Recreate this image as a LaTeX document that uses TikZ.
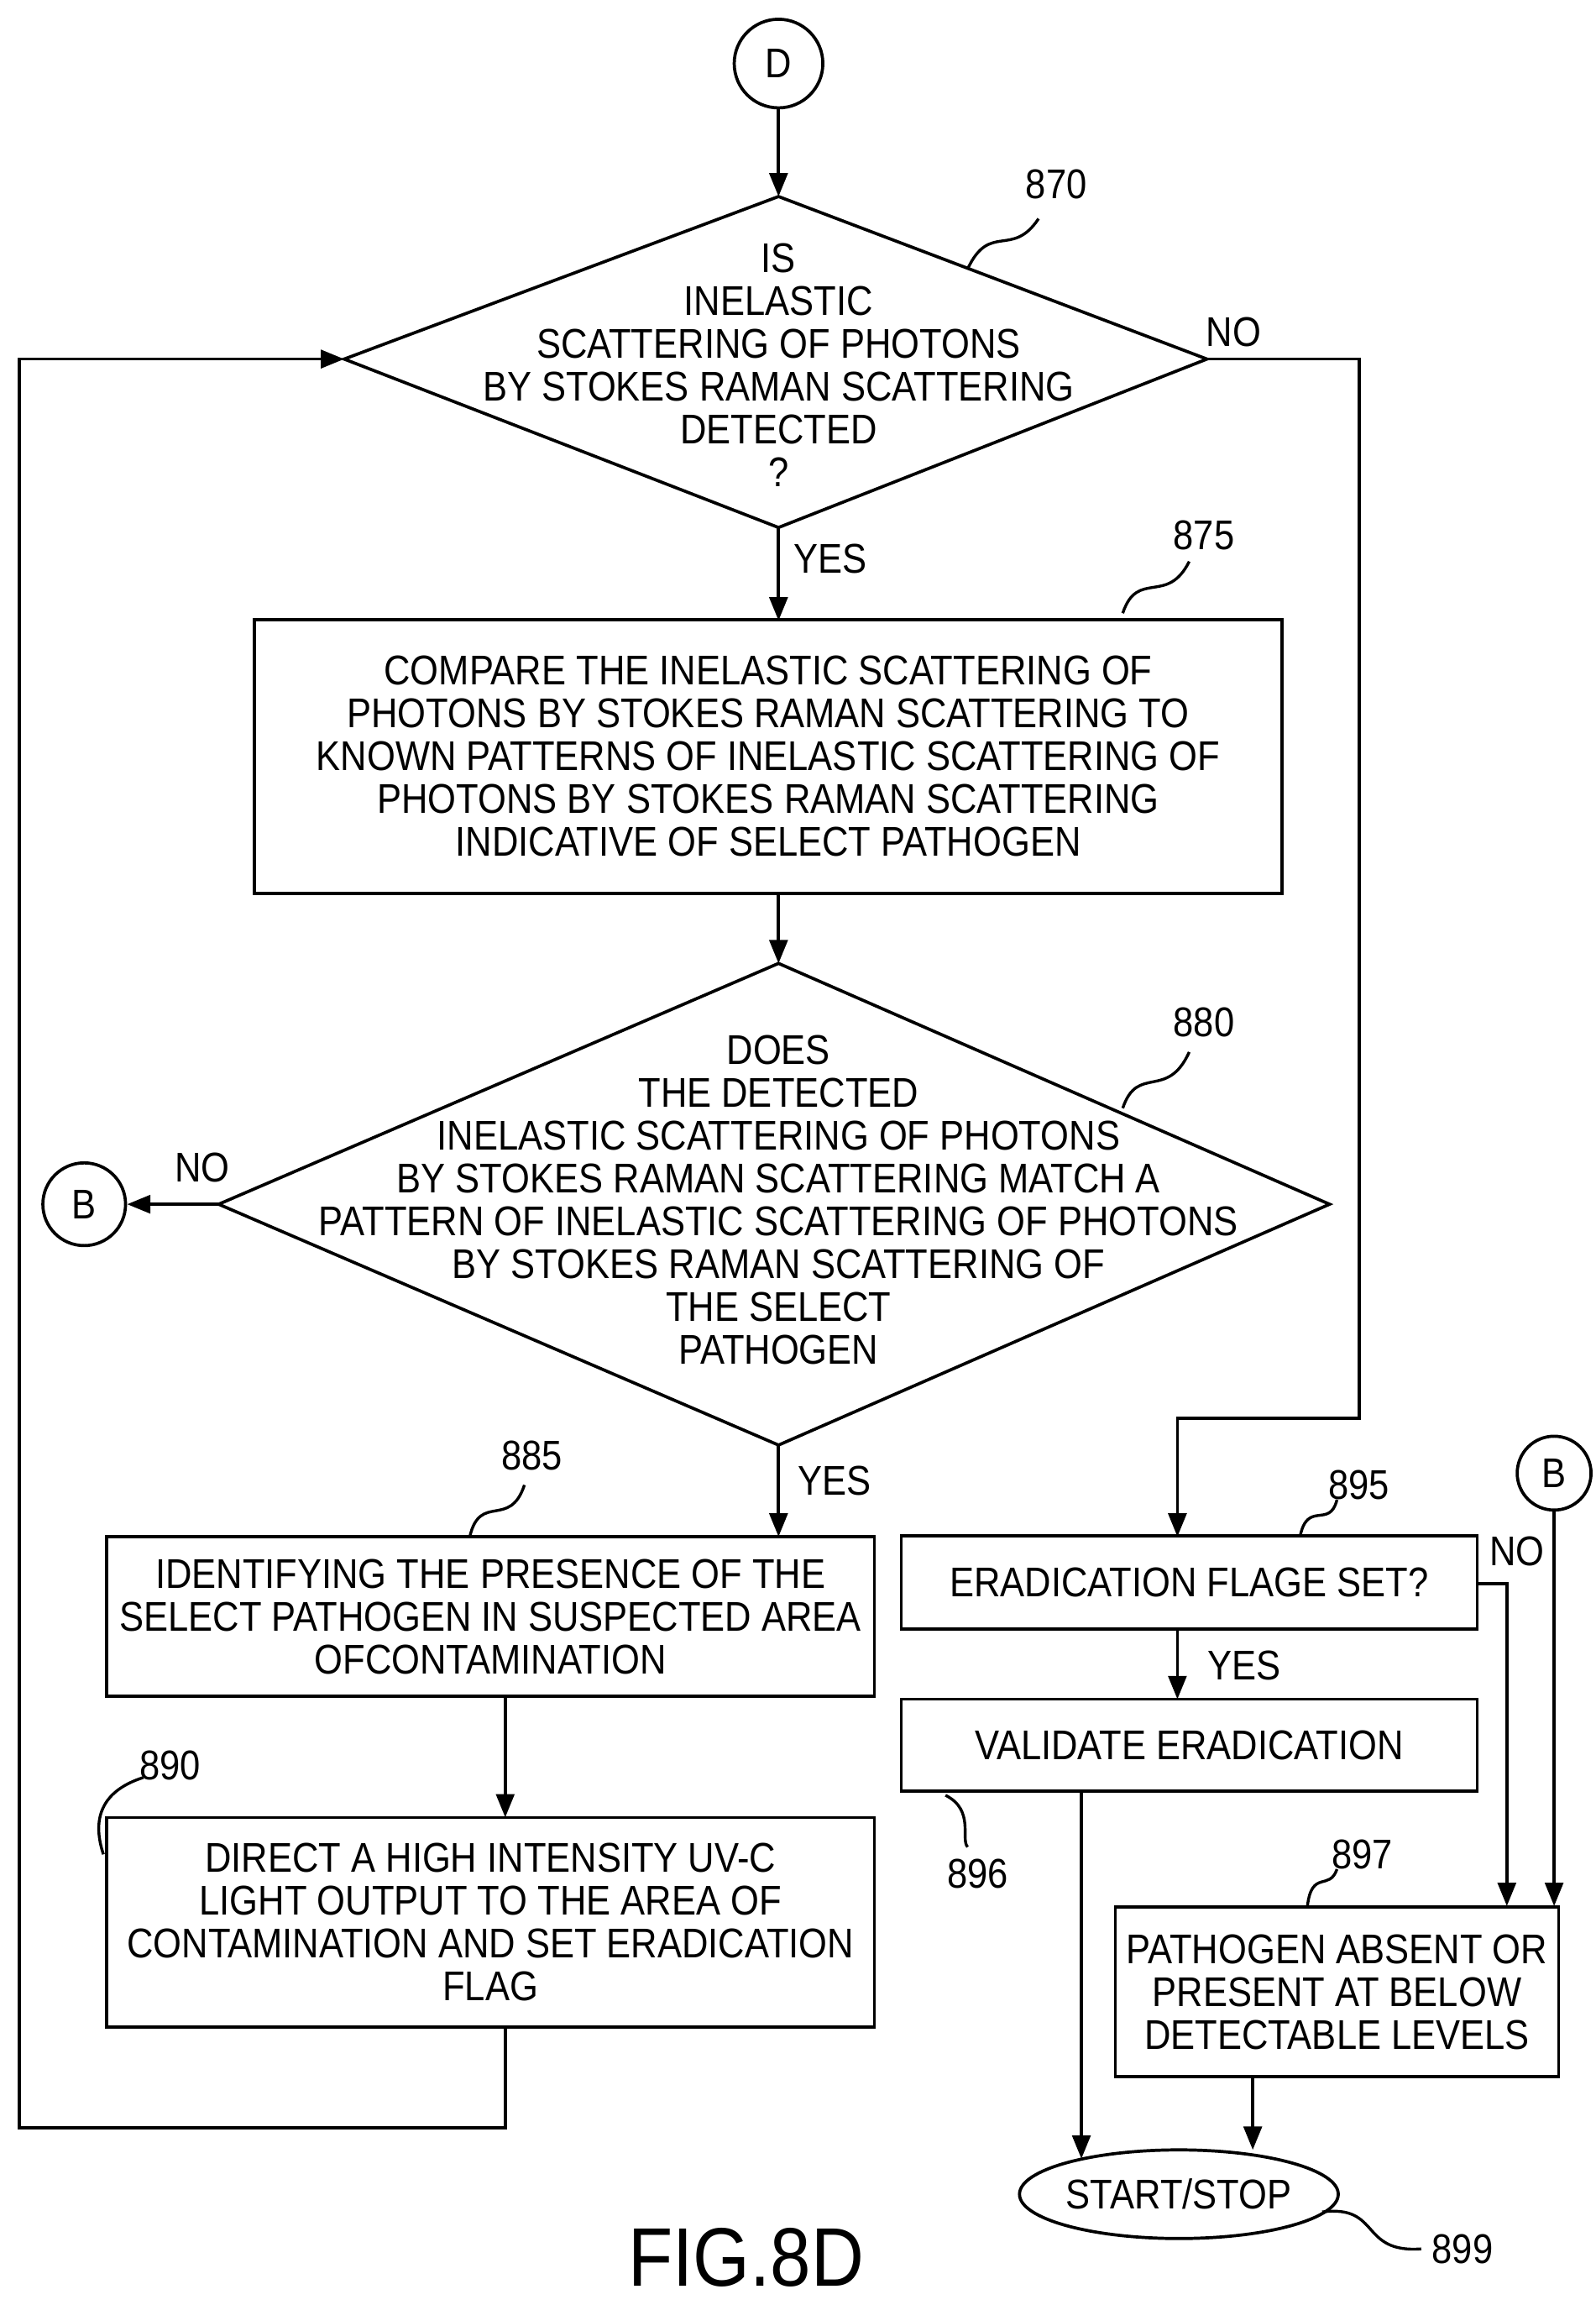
\documentclass[tikz,border=0pt]{standalone}
\usepackage{fontspec}
\setmainfont{Liberation Sans}[FakeStretch=0.88]
\usetikzlibrary{arrows.meta,shapes.geometric}
\begin{document}
\begin{tikzpicture}[x=0.02cm,y=-0.02cm,
  every node/.style={font=\fontsize{16}{16.5}\selectfont,inner sep=0pt},
  ln/.style={line width=1.2pt},
  ar/.style={ln,-{Triangle[length=9pt,width=7pt]}},
  box/.style={draw,line width=1.2pt,rectangle},
  circ/.style={draw,line width=1.2pt,circle},
  sq/.style={line width=1.1pt}]
\useasboundingbox (0,0) rectangle (1080,1560);
% D
\node[circ,minimum size=1.2cm] (D) at (527,43) {D};
% diamond 870
\coordinate (t1) at (527,133); \coordinate (b1) at (527,357);
\coordinate (l1) at (233,243); \coordinate (r1) at (817,243);
\draw[ln] (t1)--(r1)--(b1)--(l1)--cycle;
\node[align=center] (d1) at (527,247) {IS\\INELASTIC\\SCATTERING OF PHOTONS\\BY STOKES RAMAN SCATTERING\\DETECTED\\?};
\draw[ar] (D)--(t1);
% 875
\node[box,minimum width=13.92cm,minimum height=3.7cm,align=center] (b875) at (520,512) {COMPARE THE INELASTIC SCATTERING OF\\PHOTONS BY STOKES RAMAN SCATTERING TO\\KNOWN PATTERNS OF INELASTIC SCATTERING OF\\PHOTONS BY STOKES RAMAN SCATTERING\\INDICATIVE OF SELECT PATHOGEN};
\draw[ar] (b1)--(527,420);
\node at (562,378) {YES};
% diamond 880
\coordinate (t2) at (527,652); \coordinate (b2) at (527,978);
\coordinate (l2) at (148,815); \coordinate (r2) at (900,815);
\draw[ln] (t2)--(r2)--(b2)--(l2)--cycle;
\node[align=center] at (527,812) {DOES\\THE DETECTED\\INELASTIC SCATTERING OF PHOTONS\\BY STOKES RAMAN SCATTERING MATCH A\\PATTERN OF INELASTIC SCATTERING OF PHOTONS\\BY STOKES RAMAN SCATTERING OF\\THE SELECT\\PATHOGEN};
\draw[ar] (527,605)--(t2);
% B left
\node[circ,minimum size=1.12cm] (B1) at (57,815) {B};
\draw[ar] (l2)--(B1);
\node at (137,790) {NO};
% 885
\node[box,minimum width=10.4cm,minimum height=2.16cm,align=center] (b885) at (332,1094) {IDENTIFYING THE PRESENCE OF THE\\SELECT PATHOGEN IN SUSPECTED AREA\\OFCONTAMINATION};
\draw[ar] (b2)--(527,1040);
\node at (565,1002) {YES};
% 890
\node[box,minimum width=10.4cm,minimum height=2.84cm,align=center] (b890) at (332,1301) {DIRECT A HIGH INTENSITY UV-C\\LIGHT OUTPUT TO THE AREA OF\\CONTAMINATION AND SET ERADICATION\\FLAG};
\draw[ar] (342,1148)--(342,1230);
% loop
\draw[ar] (342,1372)--(342,1440)--(13,1440)--(13,243)--(l1);
% 895
\node[box,minimum width=7.8cm,minimum height=1.26cm] (b895) at (805,1071) {ERADICATION FLAGE SET?};
\draw[ar] (r1)--(920,243)--(920,960)--(797,960)--(797,1040);
\node at (835,225) {NO};
% 896
\node[box,minimum width=7.8cm,minimum height=1.24cm] (b896) at (805,1181) {VALIDATE ERADICATION};
\draw[ar] (797,1103)--(797,1150);
\node at (842,1127) {YES};
% 897
\node[box,minimum width=6cm,minimum height=2.3cm,align=center] (b897) at (905,1348) {PATHOGEN ABSENT OR\\PRESENT AT BELOW\\DETECTABLE LEVELS};
\draw[ar] (1000,1072)--(1020,1072)--(1020,1290);
\node at (1027,1050) {NO};
\node[circ,minimum size=1cm] (B2) at (1052,997) {B};
\draw[ar] (B2)--(1052,1290);
% start/stop
\node[draw,ellipse,line width=1.2pt,minimum width=4.1cm,minimum height=1.2cm] (ss) at (798,1485) {START/STOP};
\draw[ar] (732,1212)--(732,1461);
\draw[ar] (848,1405)--(848,1455);
% labels and squiggles
\node at (715,125) {870};
\draw[sq] (655,182) .. controls (670,150) and (685,175) .. (703,148);
\node at (815,362) {875};
\draw[sq] (760,415) .. controls (770,385) and (790,410) .. (805,380);
\node at (815,692) {880};
\draw[sq] (760,750) .. controls (770,720) and (790,745) .. (805,712);
\node at (360,985) {885};
\draw[sq] (318,1040) .. controls (325,1010) and (345,1035) .. (355,1005);
\node at (115,1195) {890};
\draw[sq] (70,1255) .. controls (60,1225) and (75,1210) .. (97,1203);
\node at (920,1005) {895};
\draw[sq] (880,1040) .. controls (885,1015) and (900,1035) .. (905,1015);
\node at (662,1268) {896};
\draw[sq] (640,1215) .. controls (660,1225) and (650,1245) .. (655,1250);
\node at (922,1255) {897};
\draw[sq] (885,1290) .. controls (888,1265) and (900,1280) .. (905,1265);
\node at (990,1522) {899};
\draw[sq] (895,1497) .. controls (935,1492) and (920,1525) .. (962,1522);
\node[font=\fontsize{32}{34}\selectfont] at (505,1528) {FIG.8D};
\end{tikzpicture}
\end{document}
